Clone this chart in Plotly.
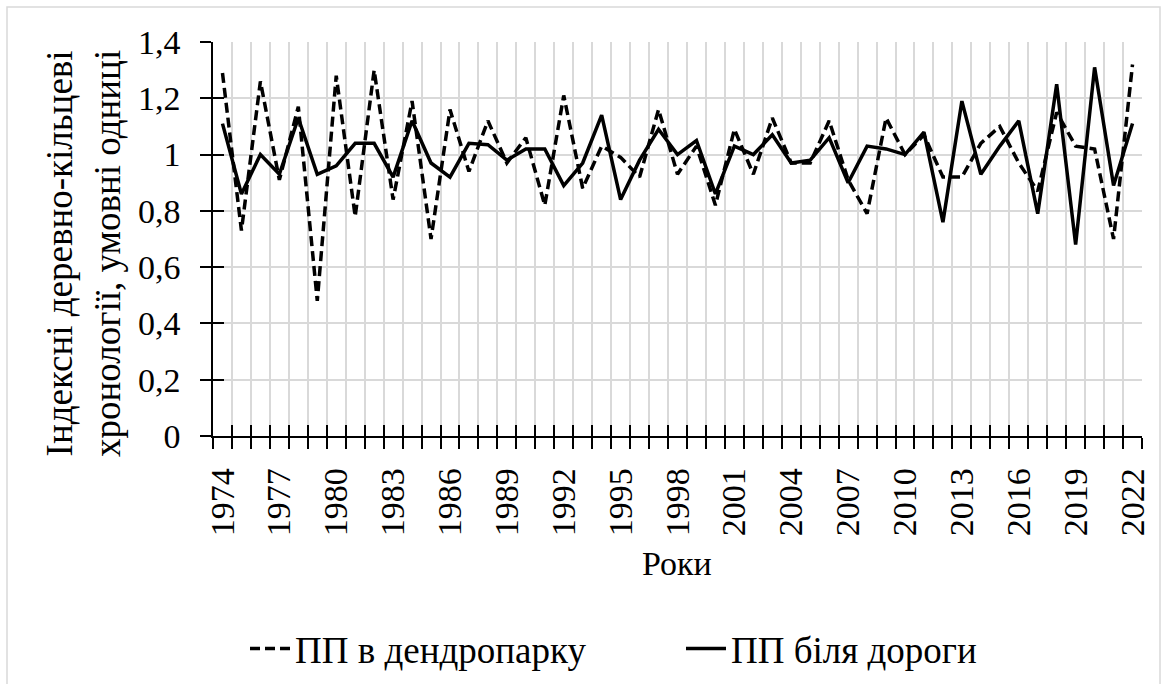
import plotly.graph_objects as go

# Tree-ring chronology indices, 1974-2022
years = list(range(1974, 2023))

dendropark = [1.29, 0.73, 1.26, 0.91, 1.17, 0.48, 1.28, 0.78, 1.30, 0.84,
              1.19, 0.70, 1.16, 0.94, 1.12, 0.97, 1.06, 0.82, 1.21, 0.88,
              1.03, 0.99, 0.92, 1.16, 0.93, 1.03, 0.82, 1.09, 0.93, 1.13,
              0.97, 0.97, 1.12, 0.91, 0.79, 1.13, 1.00, 1.07, 0.92, 0.92,
              1.04, 1.10, 0.97, 0.87, 1.15, 1.03, 1.02, 0.70, 1.32]

roadside = [1.11, 0.86, 1.00, 0.93, 1.13, 0.93, 0.96, 1.04, 1.04, 0.92,
            1.12, 0.97, 0.92, 1.04, 1.035, 0.98, 1.02, 1.02, 0.89, 0.97,
            1.14, 0.84, 0.98, 1.09, 1.00, 1.05, 0.86, 1.03, 1.00, 1.07,
            0.97, 0.98, 1.06, 0.90, 1.03, 1.02, 1.00, 1.08, 0.76, 1.19,
            0.93, 1.03, 1.12, 0.79, 1.25, 0.68, 1.31, 0.89, 1.11]

y_ticks = [0, 0.2, 0.4, 0.6, 0.8, 1.0, 1.2, 1.4]
y_ticktext = ["0", "0,2", "0,4", "0,6", "0,8", "1", "1,2", "1,4"]
x_labels = years[::3]

series_names = ["ПП в дендропарку", "ПП біля дороги"]

FONT = "Liberation Serif"
GRID = "#d9d9d9"

W, H = 1169, 684
L, R, T, B = 213, 27, 42, 248
pw, ph = W - L - R, H - T - B


def px_x(p):
    return (p - L) / pw


def px_y(p):
    return (H - B - p) / ph


fig = go.Figure()

fig.add_trace(go.Scatter(
    x=years, y=dendropark, mode="lines", name=series_names[0],
    line=dict(color="black", width=3.5, dash="10px,5px"),
))
fig.add_trace(go.Scatter(
    x=years, y=roadside, mode="lines", name=series_names[1],
    line=dict(color="black", width=3.5),
))
# empty trace that carries the overlay axes used for the inner tick halves
fig.add_trace(go.Scatter(x=[None], y=[None], xaxis="x2", yaxis="y2",
                         showlegend=False, hoverinfo="skip"))

xr = [years[0] - 0.5, years[-1] + 0.5]
yr = [0, 1.4]

fig.update_layout(
    width=W, height=H,
    margin=dict(l=L, r=R, t=T, b=B, autoexpand=False),
    paper_bgcolor="white", plot_bgcolor="white",
    font=dict(family=FONT, size=34, color="black"),
    xaxis=dict(
        range=xr, tickmode="array", tickvals=x_labels,
        ticktext=[str(v) for v in x_labels], tickangle=-90,
        ticks="", showgrid=False, zeroline=False,
        showline=True, linecolor="black", linewidth=1.5,
        ticklabelstandoff=17, automargin=False,
        tickfont=dict(family=FONT, size=34, color="black"),
        minor=dict(tick0=xr[0], dtick=1, ticks="outside", ticklen=11,
                   tickwidth=1.5, tickcolor="black",
                   showgrid=True, gridcolor=GRID, gridwidth=1.5),
    ),
    yaxis=dict(
        range=yr, tickmode="array", tickvals=y_ticks, ticktext=y_ticktext,
        ticks="outside", ticklen=11, tickwidth=1.5, tickcolor="black",
        showgrid=True, gridcolor=GRID, gridwidth=1.5, zeroline=False,
        showline=True, linecolor="black", linewidth=1.5,
        ticklabelstandoff=13, automargin=False,
        tickfont=dict(family=FONT, size=34, color="black"),
    ),
    xaxis2=dict(
        range=xr, overlaying="x", anchor="y2", tickmode="linear",
        tick0=xr[0], dtick=1, ticks="inside", ticklen=11, tickwidth=1.5,
        tickcolor="black", showticklabels=False, showgrid=False,
        zeroline=False, showline=False,
    ),
    yaxis2=dict(
        range=yr, overlaying="y", anchor="x2", tickmode="array",
        tickvals=y_ticks, ticks="inside", ticklen=11, tickwidth=1.5,
        tickcolor="black", showticklabels=False, showgrid=False,
        zeroline=False, showline=False,
    ),
    legend=dict(
        orientation="h", x=px_x(245), y=px_y(649),
        xanchor="left", yanchor="middle",
        font=dict(family=FONT, size=37, color="black"),
        bgcolor="rgba(0,0,0,0)", itemwidth=40,
        entrywidth=381, entrywidthmode="pixels",
    ),
    showlegend=True,
)

# axis titles
fig.add_annotation(
    xref="paper", yref="paper", x=px_x(83), y=px_y(254),
    text="Індексні деревно-кільцеві<br>хронології, умовні одниці",
    textangle=-90, showarrow=False, xanchor="center", yanchor="middle",
    font=dict(family=FONT, size=37, color="black"),
)
fig.add_annotation(
    xref="paper", yref="paper", x=px_x(677), y=px_y(563),
    text="Роки", showarrow=False, xanchor="center", yanchor="middle",
    font=dict(family=FONT, size=34, color="black"),
)

# chart area border
fig.add_shape(
    type="rect", xref="paper", yref="paper",
    x0=px_x(7), x1=px_x(1160), y0=px_y(7), y1=px_y(700),
    line=dict(color=GRID, width=1.5), fillcolor="rgba(0,0,0,0)", layer="below",
)

fig.write_html("out.html")
